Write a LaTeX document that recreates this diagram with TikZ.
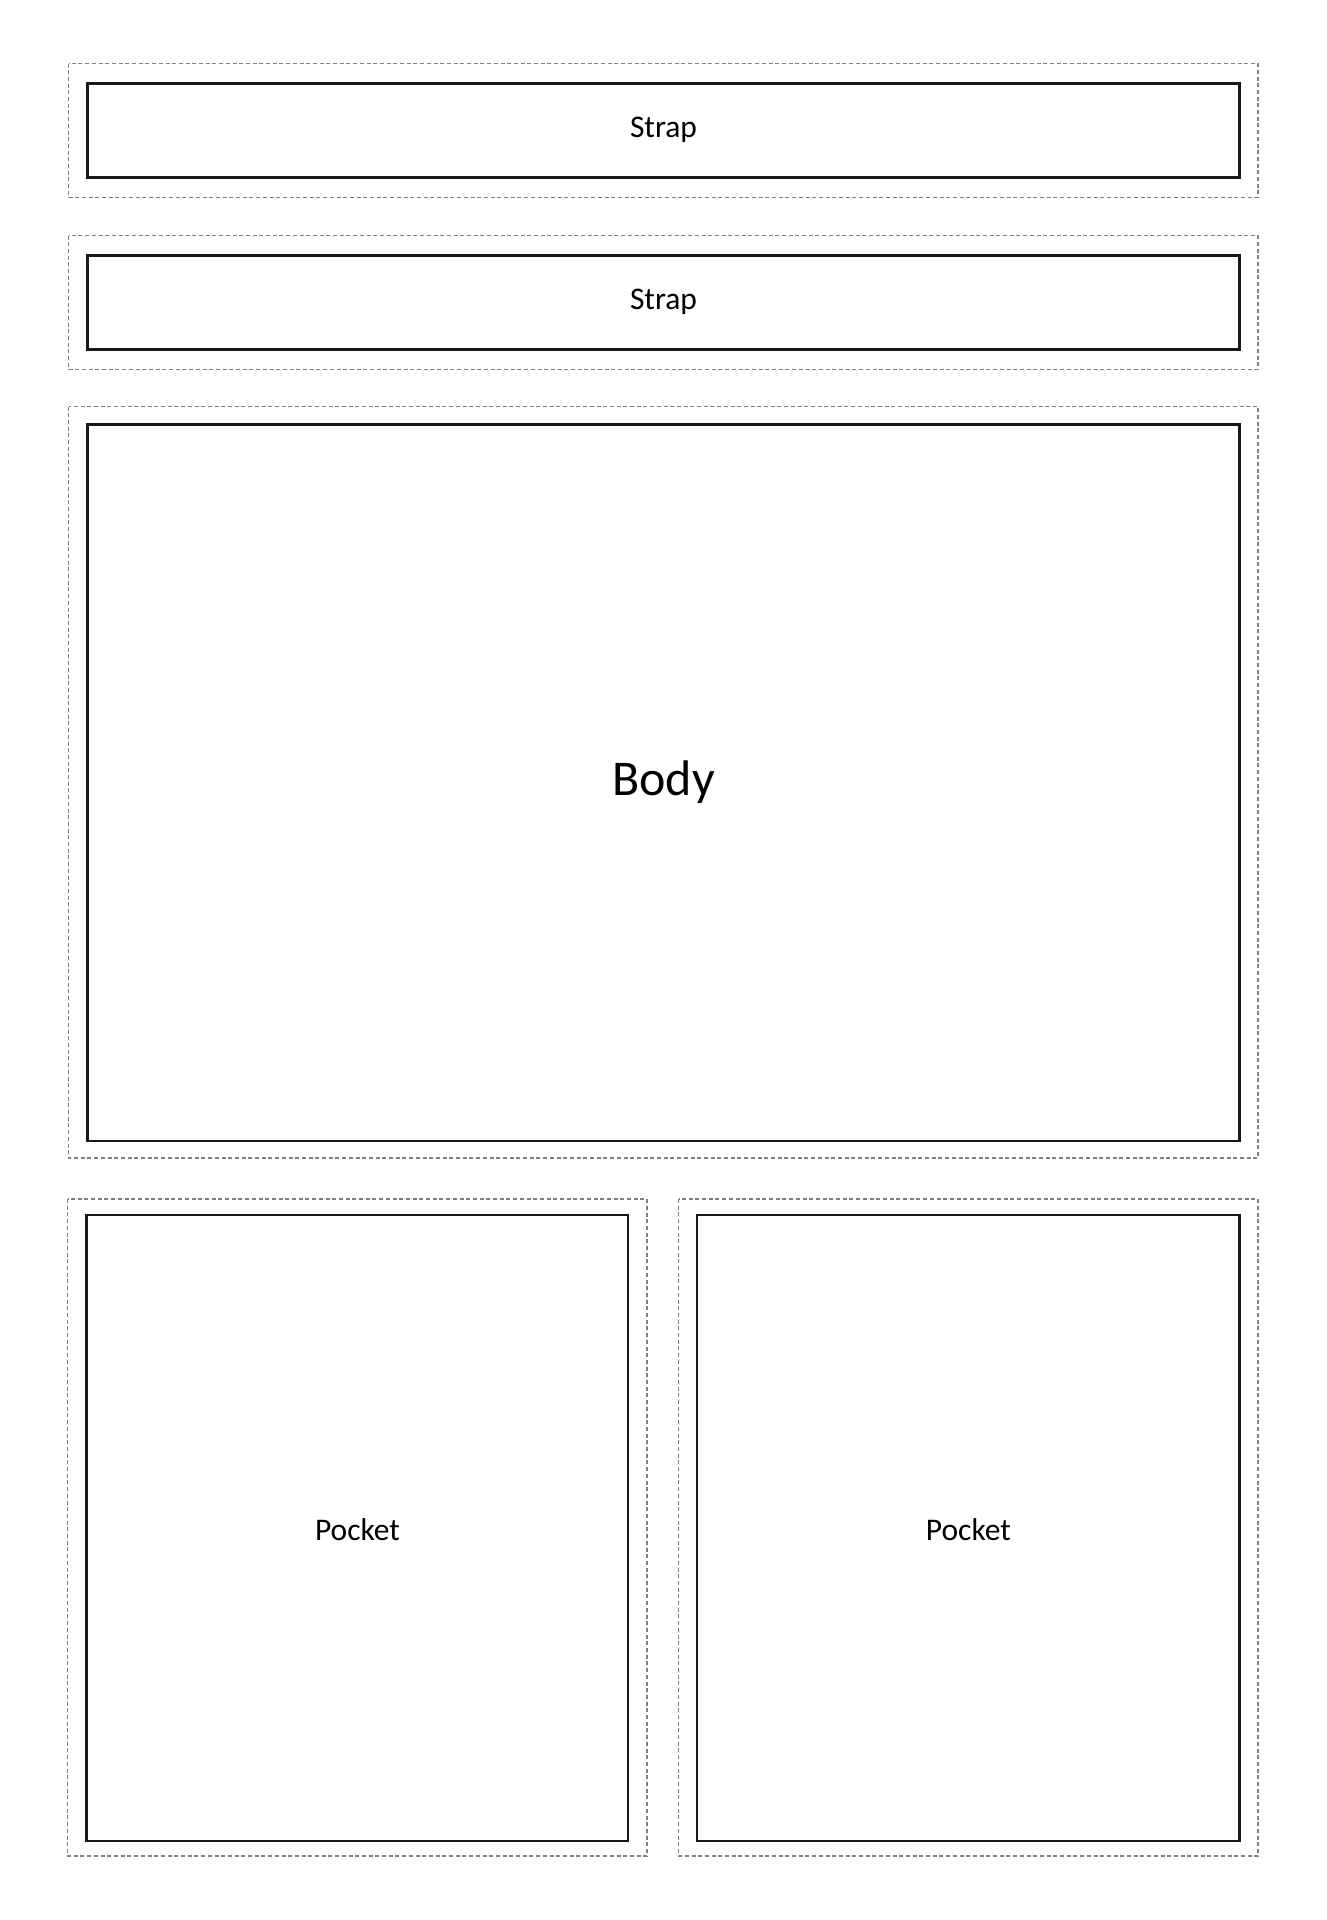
\documentclass[tikz,border=0pt]{standalone}
\usepackage{fontspec}
\setmainfont{Carlito}
\begin{document}
\begin{tikzpicture}[x=1pt,y=-1pt,
  seam/.style={draw=black!50, line width=1.2pt, dash pattern=on 4pt off 2.7pt},
  piece/.style={draw=black!90, line width=2.2pt},
  lbl/.style={inner sep=0pt, anchor=base, font=\fontsize{31.5}{36}\selectfont},
  biglbl/.style={inner sep=0pt, anchor=base, font=\fontsize{50}{60}\selectfont}]
\useasboundingbox[fill=white] (0,0) rectangle (1326,1920);
% seam allowances
\draw[seam] (68.5,63.5) rectangle (1258,197.5);
\draw[seam] (68.5,235.5) rectangle (1258,369.5);
\draw[seam] (68.5,406.5) rectangle (1258,1158);
\draw[seam] (67.5,1199) rectangle (647,1856);
\draw[seam] (678.5,1199) rectangle (1258,1856);
% pieces
\draw[piece] (87.5,83.5) rectangle (1239.5,177.5);
\draw[piece] (87.5,255.5) rectangle (1239.5,349.5);
\draw[piece] (87.5,424.5) rectangle (1239.5,1141);
\draw[piece] (86.5,1215) rectangle (628.3,1841);
\draw[piece] (697.3,1215) rectangle (1239.5,1841);
% labels
\node[lbl] (strapA) at (663.5,137.7) {Strap};
\node[lbl] (strapB) at (663.5,309.5) {Strap};
\node[biglbl] (body) at (663.5,795) {Body};
\node[lbl] (pocketL) at (357.5,1540) {Pocket};
\node[lbl] (pocketR) at (968.4,1540) {Pocket};
\end{tikzpicture}
\end{document}
